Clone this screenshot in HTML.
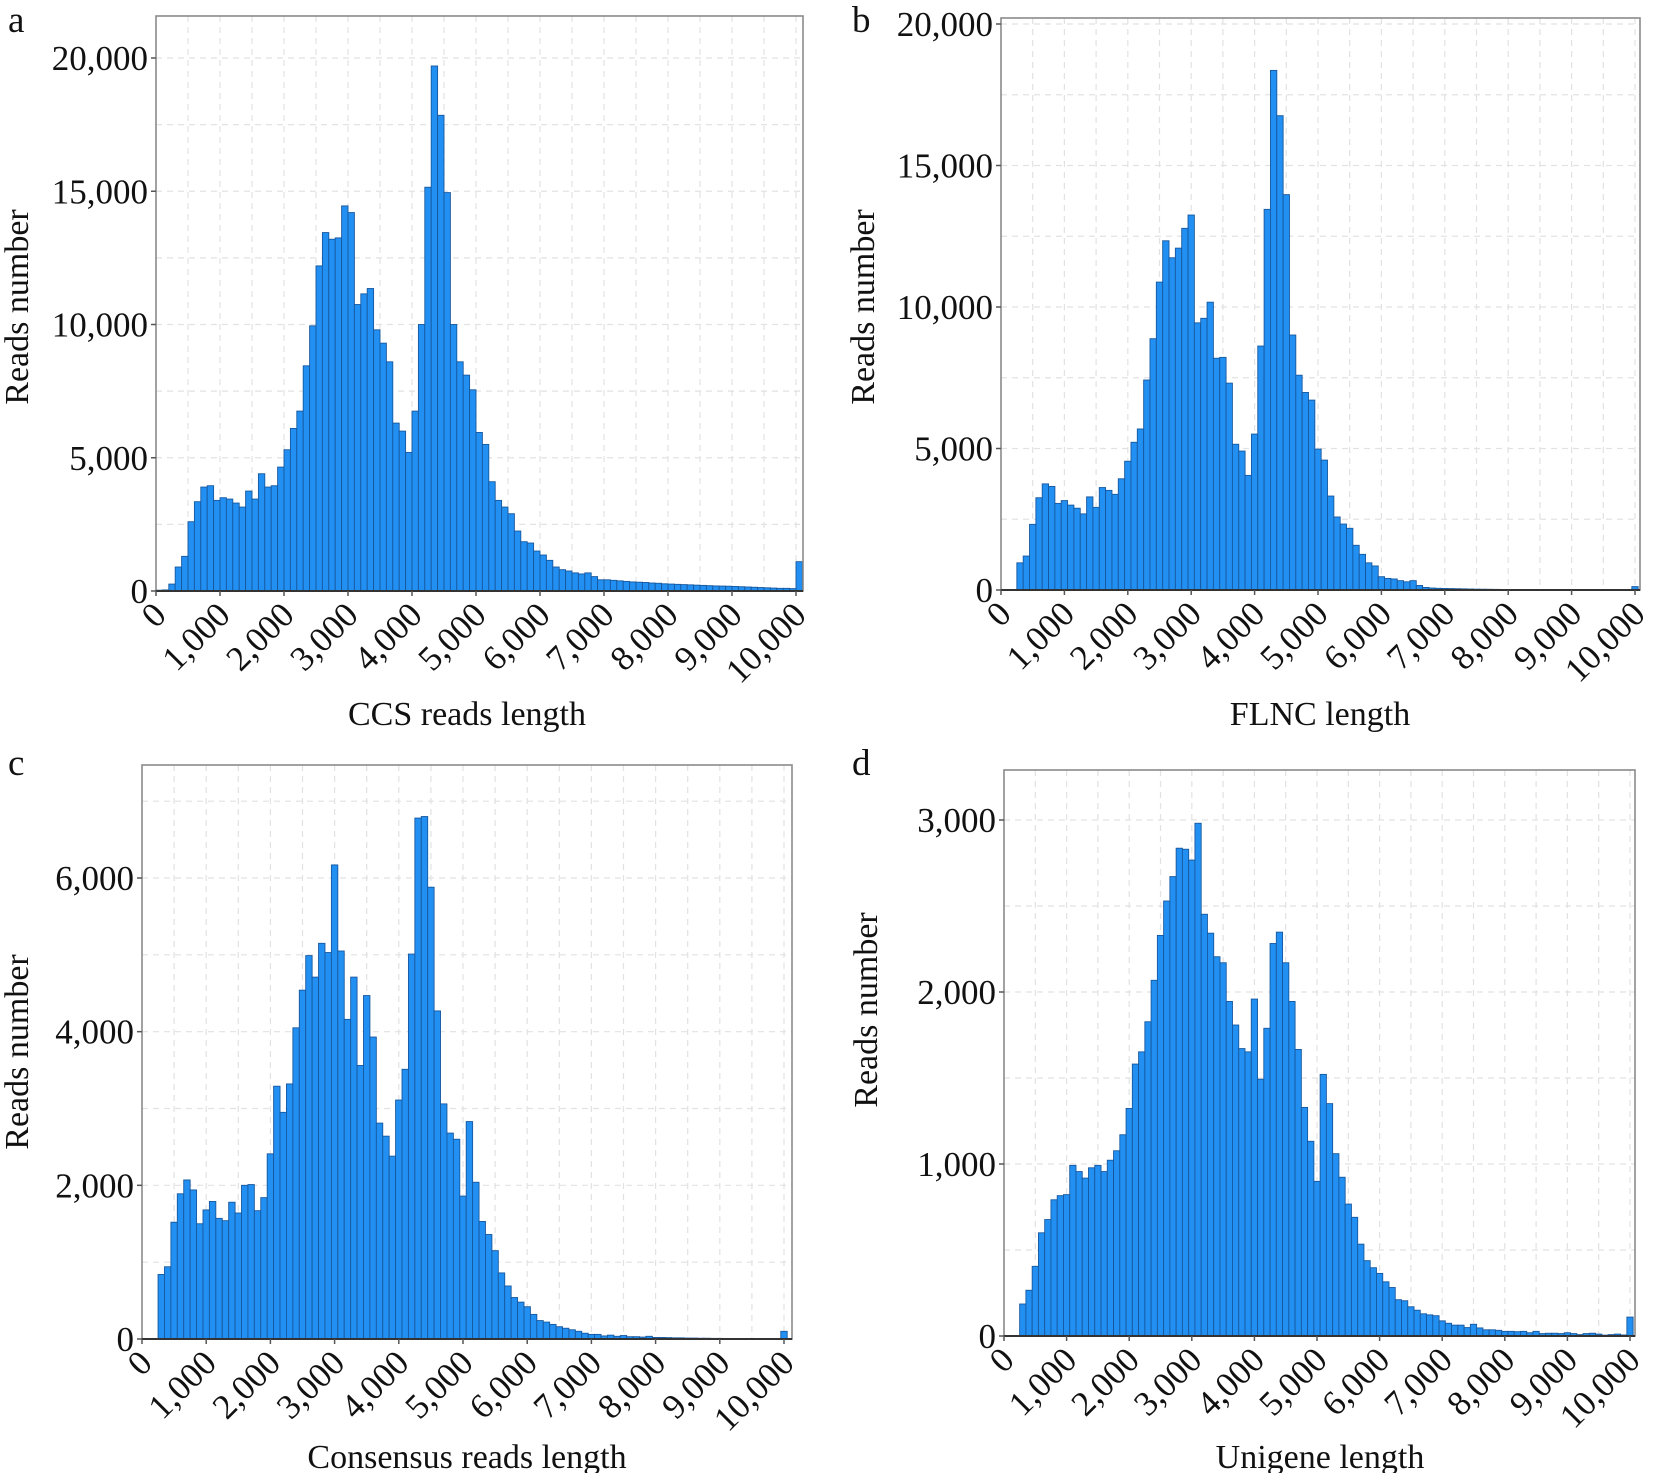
<!DOCTYPE html>
<html><head><meta charset="utf-8">
<style>
html,body{margin:0;padding:0;background:#fff;}
svg{display:block;font-family:"Liberation Serif","Times New Roman",serif;}
</style></head>
<body>
<svg id="fig" width="1654" height="1473" viewBox="0 0 1654 1473"></svg>
<script>
// ---- data ----
const xTicks = [0,1000,2000,3000,4000,5000,6000,7000,8000,9000,10000];
const xTickLabels = ["0","1,000","2,000","3,000","4,000","5,000","6,000","7,000","8,000","9,000","10,000"];

const aStart = 0;
const aValues = [30,40,260,900,1300,2600,3350,3900,3950,3400,3500,3450,3300,3150,3750,3450,4400,3900,3950,4650,5300,6100,6750,8450,9950,12200,13450,13200,13250,14450,14200,10750,11150,11350,9800,9300,8600,6300,6000,5200,6750,10000,15150,19700,17850,14950,10000,8600,8100,7550,5950,5500,4100,3400,3150,2900,2250,1850,1800,1500,1350,1150,900,800,750,680,640,680,540,420,420,400,380,360,340,330,320,300,290,270,260,250,240,230,220,210,200,190,185,180,170,160,150,140,130,120,110,100,100,90,1100];
const aYTicks = [0,5000,10000,15000,20000];
const aYLabels = ["0","5,000","10,000","15,000","20,000"];

const bStart = 250;
const bValues = [960,1200,2320,3260,3750,3660,3060,3160,3000,2890,2690,3290,2920,3620,3520,3380,3930,4550,5220,5690,7420,8880,10880,12340,11740,12080,12780,13250,9440,9600,10170,8190,8220,7310,5150,4910,4050,5510,8620,13450,18360,16760,13970,9010,7590,6980,6710,4980,4590,3320,2580,2330,2180,1580,1260,960,850,470,410,390,330,290,330,160,90,70,60,55,50,45,40,35,30,28,25,22,20,18,16,15,14,13,12,11,10,10,9,8,8,7,6,6,5,5,5,4,4,120];
const bYTicks = [0,5000,10000,15000,20000];
const bYLabels = ["0","5,000","10,000","15,000","20,000"];

const cStart = 250;
const cValues = [840,940,1520,1890,2070,1940,1500,1680,1790,1570,1540,1780,1640,2000,2010,1670,1840,2410,3290,2950,3320,4050,4540,4990,4710,5150,5030,6170,5050,4160,4710,3560,4470,3930,2810,2640,2380,3110,3510,5010,6780,6800,5880,4270,3060,2680,2600,1860,2830,2040,1530,1360,1150,860,690,540,480,420,320,240,220,190,160,140,120,100,75,60,60,40,50,35,45,30,30,25,35,20,20,18,15,15,12,12,10,10,8,8,6,6,5,5,5,4,4,3,3,100];
const cYTicks = [0,2000,4000,6000];
const cYLabels = ["0","2,000","4,000","6,000"];

const dStart = 250;
const dValues = [186,266,405,600,677,792,816,822,992,956,918,978,992,956,1022,1077,1170,1323,1581,1652,1827,2068,2329,2529,2671,2836,2830,2767,2981,2452,2342,2205,2170,1945,1808,1671,1652,1959,1493,1789,2282,2348,2170,1945,1666,1329,1132,899,1521,1351,1060,923,767,690,534,438,397,364,315,282,211,205,170,150,129,123,118,88,74,63,63,49,68,47,36,36,33,27,27,25,27,19,27,14,16,16,14,19,14,8,14,16,11,5,8,11,6,110];
const dYTicks = [0,1000,2000,3000];
const dYLabels = ["0","1,000","2,000","3,000"];

const NS = "http://www.w3.org/2000/svg";
const svg = document.getElementById("fig");
function mk(tag, attrs, parent){
  const e = document.createElementNS(NS, tag);
  for (const k in attrs) e.setAttribute(k, attrs[k]);
  (parent||svg).appendChild(e);
  return e;
}

function panel(cfg){
  const g = mk("g", {});
  
  
  const xs = v => cfg.x0 + (v/10000)*(cfg.x1 - cfg.x0);
  const ys = v => cfg.base - (v/cfg.yRef)*(cfg.base - cfg.yRefPx);
  for (let v=500; v<=10000; v+=500){
    const l = mk("line",{x1:xs(v),x2:xs(v),y1:cfg.top,y2:cfg.base,stroke:"#e2e2e2","stroke-width":1.2,"stroke-dasharray":"6,5"},g);
    
    
  }
  for (let v=cfg.gridStep; ys(v)>cfg.top+2; v+=cfg.gridStep){
    const l = mk("line",{x1:cfg.left,x2:cfg.right,y1:ys(v),y2:ys(v),stroke:"#e2e2e2","stroke-width":1.2,"stroke-dasharray":"6,5"},g);
    
    
  }
  cfg.values.forEach((v,i)=>{
    const a = cfg.start + i*100;
    const x = xs(a), w = xs(a+100)-xs(a);
    const y = ys(v);
    const r = mk("rect",{x:x,y:y,width:w,height:Math.max(0,cfg.base-y),fill:"#2290f2",stroke:"#17589f","stroke-width":0.9},g);
    
    
  });
  const f = mk("rect",{x:cfg.left,y:cfg.top,width:cfg.right-cfg.left,height:cfg.base-cfg.top,fill:"none",stroke:"#8a8a8a","stroke-width":1.6},g);
  
  
  const ax = mk("line",{x1:cfg.left,x2:cfg.right,y1:cfg.base,y2:cfg.base,stroke:"#333","stroke-width":2},g);
  
  
  cfg.yTicks.forEach((v,i)=>{
    const y = ys(v);
    mk("line",{x1:cfg.left-5,x2:cfg.left,y1:y,y2:y,stroke:"#555","stroke-width":1.5},g);
    const t = mk("text",{x:cfg.left-8,y:y+12,"text-anchor":"end","font-size":35,fill:"#111"},g);
    t.textContent = cfg.yLabels[i];
    
    
  });
  xTicks.forEach((v,i)=>{
    const x = xs(v);
    mk("line",{x1:x,x2:x,y1:cfg.base,y2:cfg.base+5,stroke:"#555","stroke-width":1.5},g);
    const tx = x+12, ty = cfg.base+26;
    const t = mk("text",{x:tx,y:ty,"text-anchor":"end","font-size":35,fill:"#111",transform:"rotate(-45 "+tx+" "+ty+")"},g);
    t.textContent = xTickLabels[i];
    
    
  });
  const xt = mk("text",{x:cfg.xTitleX,y:cfg.xTitleY,"text-anchor":"middle","font-size":34,fill:"#111"},g);
  xt.textContent = cfg.xTitle;
  
  
  const yt = mk("text",{x:0,y:0,"text-anchor":"middle","font-size":34,fill:"#111",transform:"translate("+cfg.yTitleX+" "+cfg.yTitleY+") rotate(-90)"},g);
  yt.textContent = "Reads number";
  
  
  const lt = mk("text",{x:cfg.letterX,y:cfg.letterY,"font-size":37,fill:"#111"},g);
  lt.textContent = cfg.id;
  
  
}

panel({id:"a",values:aValues,start:aStart,yTicks:aYTicks,yLabels:aYLabels,
  x0:156,x1:796,left:156,right:803,top:16,base:591,yRef:20000,yRefPx:58,gridStep:2500,
  xTitle:"CCS reads length",xTitleX:467,xTitleY:725,yTitleX:28,yTitleY:307,letterX:8,letterY:32});
panel({id:"b",values:bValues,start:bStart,yTicks:bYTicks,yLabels:bYLabels,
  x0:1001,x1:1635,left:1001,right:1640,top:18,base:590,yRef:20000,yRefPx:24,gridStep:2500,
  xTitle:"FLNC length",xTitleX:1320,xTitleY:725,yTitleX:874,yTitleY:307,letterX:852,letterY:32});
panel({id:"c",values:cValues,start:cStart,yTicks:cYTicks,yLabels:cYLabels,
  x0:142,x1:784,left:142,right:792,top:765,base:1339,yRef:6000,yRefPx:878,gridStep:1000,
  xTitle:"Consensus reads length",xTitleX:467,xTitleY:1468,yTitleX:28,yTitleY:1052,letterX:8,letterY:775});
panel({id:"d",values:dValues,start:dStart,yTicks:dYTicks,yLabels:dYLabels,
  x0:1004,x1:1630,left:1004,right:1635,top:770,base:1336,yRef:3000,yRefPx:820,gridStep:500,
  xTitle:"Unigene length",xTitleX:1320,xTitleY:1468,yTitleX:877,yTitleY:1010,letterX:852,letterY:775});
</script>
</body></html>
